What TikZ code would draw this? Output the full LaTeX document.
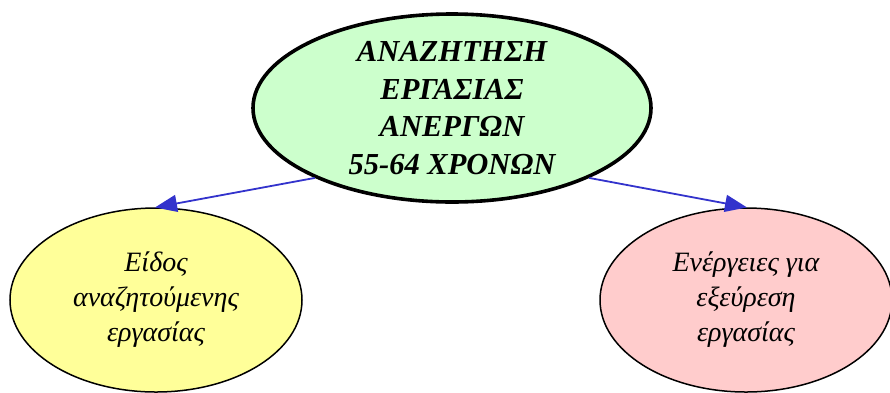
\documentclass[tikz,border=0pt]{standalone}
\usepackage{fontspec}
\setmainfont{Liberation Serif}
\usepackage{xcolor}
\usepackage{tikz}
\usetikzlibrary{positioning,arrows.meta,calc,shapes.geometric}

\definecolor{topicgreen}{HTML}{CCFFCC}
\definecolor{leafyellow}{HTML}{FFFF99}
\definecolor{leafpink}{HTML}{FFCCCC}
\definecolor{linkblue}{HTML}{3333CC}

\tikzset{
  topic/.style={ellipse, draw, line width=3.6pt, fill=topicgreen, inner sep=0pt,
    minimum width=398pt, minimum height=188pt, align=center,
    font=\fontsize{30.5}{37.5}\selectfont\bfseries\itshape},
  leaf/.style={ellipse, draw, line width=1.5pt, inner sep=0pt,
    minimum width=292pt, minimum height=184pt, align=center,
    font=\fontsize{28}{35}\selectfont\itshape},
  link/.style={draw=linkblue, line width=1.8pt,
    -{Triangle[length=22pt,width=17pt]}, shorten >=-1pt}
}

\begin{document}
\begin{tikzpicture}[x=1pt,y=1pt]
  \useasboundingbox (0,0) rectangle (890,-392);

  \node[topic] (search) at (452,-108) {ΑΝΑΖΗΤΗΣΗ\\ΕΡΓΑΣΙΑΣ\\ΑΝΕΡΓΩΝ\\55-64 ΧΡΟΝΩΝ};
  \node[leaf, fill=leafyellow] (kind) at (156,-300) {Είδος\\αναζητούμενης\\εργασίας};
  \node[leaf, fill=leafpink] (actions) at (746,-300) {Ενέργειες για\\εξεύρεση\\εργασίας};

  \draw[link] (search.207) -- (kind.north);
  \draw[link] (search.333) -- (actions.north);
\end{tikzpicture}
\end{document}
